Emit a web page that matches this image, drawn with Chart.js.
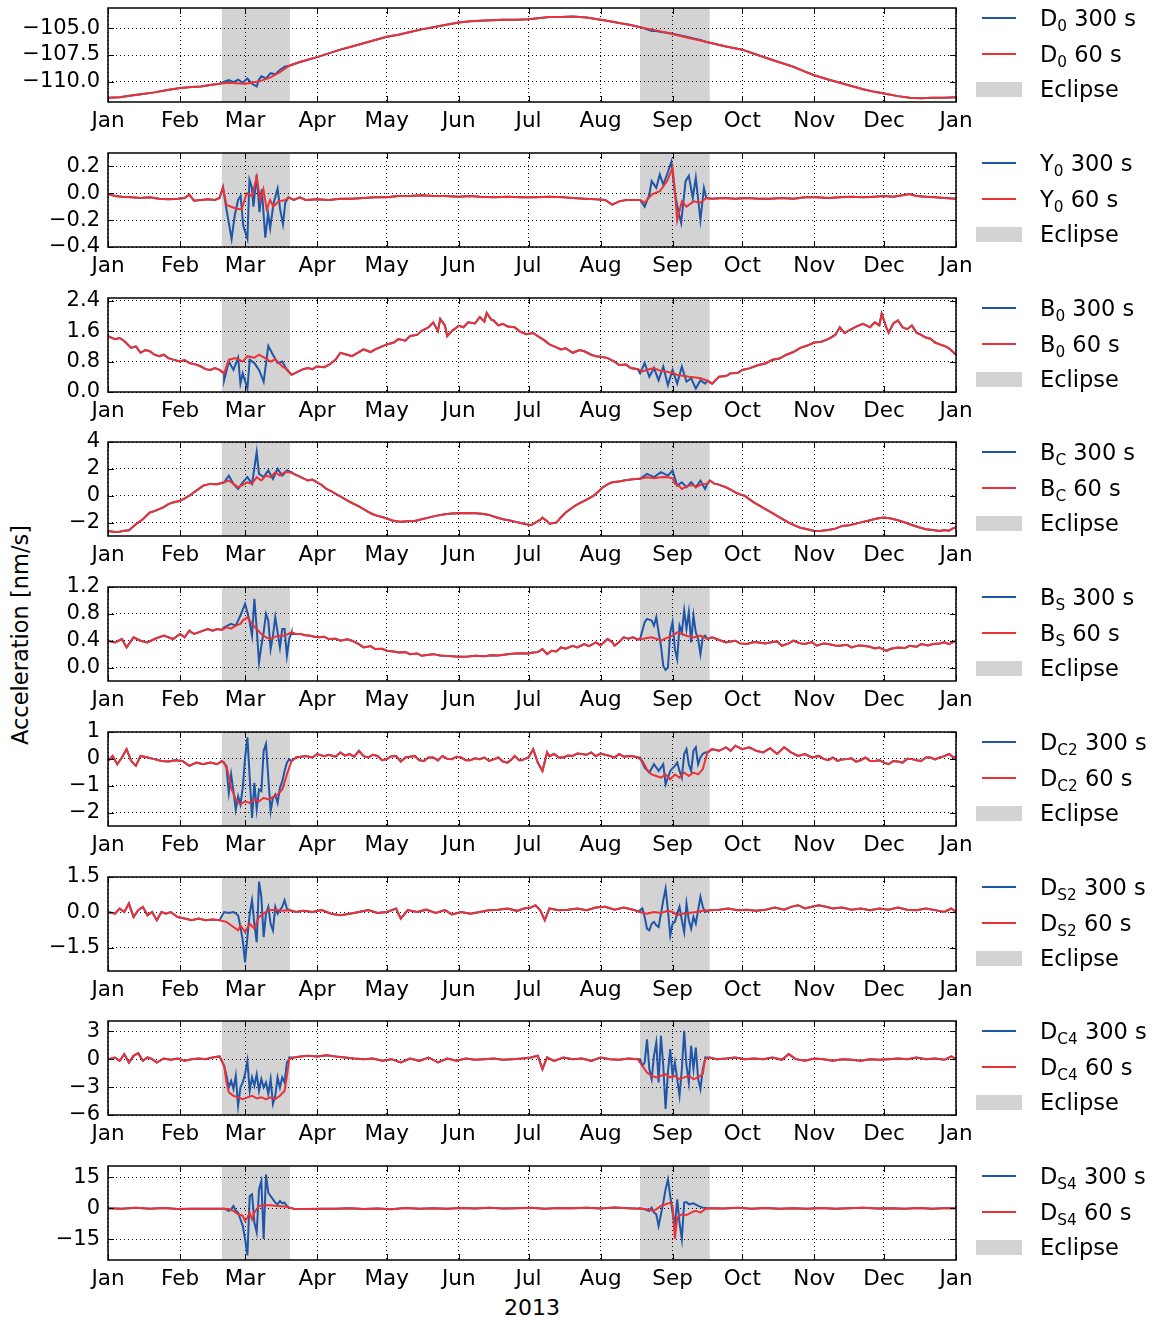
<!DOCTYPE html>
<html>
<head>
<meta charset="utf-8">
<script src="https://cdn.jsdelivr.net/npm/chart.js@4.4.1/dist/chart.umd.min.js"></script>
<style>
  body { margin: 0; background: #fff; font-family: 'DejaVu Sans', sans-serif; }
  #wrap { position: relative; width: 1156px; height: 1318px; overflow: hidden; }
  canvas { position: absolute; left: 0; }
  .leg { position: absolute; left: 0; font-size: 22.5px; color: #000; white-space: nowrap; z-index: 2; }
  .leg .row { position: absolute; left: 976px; height: 0; }
  .leg .ln { position: absolute; left: 6px; width: 34px; height: 2px; top: -1px; }
  .leg .patch { position: absolute; left: 0; width: 46px; height: 15px; top: -7px; background: #d3d3d3; }
  .leg .txt { position: absolute; left: 64px; top: -14px; line-height: 28px; }
  .leg sub { font-size: 0.68em; vertical-align: -0.3em; line-height: 0; }
  #ylab { position: absolute; left: 20px; top: 635px; font-size: 22.5px; transform: translate(-50%, -50%) rotate(-90deg); white-space: nowrap; }
  #xlab { position: absolute; left: 532px; top: 1307px; font-size: 22px; transform: translate(-50%, -50%); }
</style>
</head>
<body>
<div id="wrap">
  <div id="ylab">Acceleration [nm/s]</div>
  <div id="xlab">2013</div>
</div>
<script>
// x axis: day of year 2013, month starts
const monthStarts = [0, 31, 59, 90, 120, 151, 181, 212, 243, 273, 304, 334, 365];
const monthLabels = ['Jan', 'Feb', 'Mar', 'Apr', 'May', 'Jun', 'Jul', 'Aug', 'Sep', 'Oct', 'Nov', 'Dec', 'Jan'];
const eclipseStart = [49, 229];
const eclipseEnd = [78.3, 259];

// D0
const d0Red = [[0,-111.5],[5,-111.45],[10,-111.3],[15,-111.15],[20,-111.0],[25,-110.8],[31,-110.6],[36,-110.5],[40,-110.45],[44,-110.3],[48,-110.2],[52,-110.1],[55,-110.15],[59,-110.2],[62,-110.1],[66,-109.9],[70,-109.6],[74,-109.1],[78,-108.5],[82,-108.2],[86,-107.95],[90,-107.7],[95,-107.35],[100,-107.0],[105,-106.7],[110,-106.4],[115,-106.1],[120,-105.8],[125,-105.6],[130,-105.35],[135,-105.1],[140,-104.9],[145,-104.7],[151,-104.45],[156,-104.35],[160,-104.3],[165,-104.25],[170,-104.2],[176,-104.2],[181,-104.15],[185,-104.05],[190,-103.95],[195,-103.95],[200,-103.9],[206,-104.0],[212,-104.2],[216,-104.35],[220,-104.5],[225,-104.7],[230,-104.95],[235,-105.15],[240,-105.4],[245,-105.65],[250,-105.9],[255,-106.15],[260,-106.4],[266,-106.7],[273,-107.0],[279,-107.45],[285,-107.9],[290,-108.25],[295,-108.6],[300,-109.05],[304,-109.4],[310,-109.8],[315,-110.1],[320,-110.4],[325,-110.7],[330,-110.95],[334,-111.1],[340,-111.35],[345,-111.5],[350,-111.55],[355,-111.5],[360,-111.5],[365,-111.45]];
const d0BlueMar = [[50,-110.0],[52,-109.85],[54,-110.05],[56,-109.8],[58,-110.1],[60,-109.7],[62,-110.2],[64,-110.45],[65,-109.8],[66,-109.5],[68,-109.7],[70,-109.2],[72,-109.3],[74,-108.9],[76,-108.6],[78,-108.5]];
const d0BlueSep = [[230,-104.95],[232,-105.1],[234,-105.25],[236,-105.25],[238,-105.35],[240,-105.4],[243,-105.5],[246,-105.65],[249,-105.8],[252,-105.95],[255,-106.1],[258,-106.3]];
const d0Ticks = [-110, -107.5, -105];

// Y0
const y0Red = [[0,-0.005],[3,-0.02],[6,-0.025],[10,-0.03],[14,-0.035],[18,-0.03],[22,-0.04],[26,-0.045],[30,-0.04],[33,-0.035],[35,-0.01],[37,-0.055],[40,-0.05],[43,-0.045],[46,-0.05],[48,-0.035],[49.5,0.045],[51,-0.086],[53,-0.1],[55.4,-0.115],[57.5,-0.12],[59.7,0.0],[62,-0.02],[64,0.12],[65.5,-0.05],[66.9,0.03],[68.3,-0.12],[69.8,-0.05],[71.2,-0.1],[73.4,-0.06],[76.3,-0.05],[77.7,-0.03],[80,-0.05],[82.6,-0.03],[85,-0.05],[90,-0.045],[95,-0.05],[100,-0.04],[105,-0.04],[110,-0.035],[115,-0.03],[120,-0.03],[125,-0.02],[130,-0.02],[135,-0.015],[140,-0.02],[145,-0.02],[151,-0.025],[156,-0.02],[160,-0.025],[166,-0.03],[172,-0.025],[178,-0.03],[184,-0.03],[190,-0.025],[196,-0.03],[200,-0.035],[205,-0.04],[210,-0.045],[214,-0.05],[217,-0.085],[220,-0.06],[223,-0.05],[226,-0.05],[229,-0.05],[231,-0.07],[234,-0.01],[237.5,0.015],[240.6,0.09],[243,0.19],[244,0.02],[245,-0.2],[247,-0.06],[249,-0.1],[252,-0.06],[255,-0.07],[257.5,-0.035],[260,-0.04],[265,-0.035],[270,-0.04],[275,-0.035],[280,-0.04],[285,-0.04],[290,-0.035],[295,-0.04],[300,-0.03],[305,-0.03],[310,-0.035],[315,-0.03],[320,-0.025],[325,-0.03],[330,-0.025],[334,-0.02],[338,-0.025],[342,-0.015],[345,-0.005],[348,-0.02],[352,-0.025],[356,-0.03],[360,-0.035],[365,-0.04]];
const y0BlueMar = [[49.5,0.045],[51,-0.12],[53.2,-0.34],[54.6,-0.16],[56,-0.05],[57.1,-0.02],[58.2,-0.24],[60,-0.34],[60.9,0.1],[61.9,0.045],[62.6,-0.1],[64,0.14],[65.2,-0.14],[66.2,0.03],[67.7,-0.33],[68.9,-0.15],[69.8,-0.26],[71.2,-0.08],[73,0.035],[74.1,-0.12],[75.3,-0.23],[76.3,-0.07],[77.3,-0.04]];
const y0BlueSep = [[229,-0.05],[231,-0.1],[233,-0.01],[234,0.09],[236,0.04],[237.5,0.14],[239,0.065],[240.6,0.14],[242.5,0.235],[244,0.0],[245.5,-0.135],[246.7,-0.22],[248.6,0.09],[250,0.13],[251.7,-0.035],[253,0.115],[255,-0.2],[256.5,0.04],[257.5,-0.035]];
const y0Ticks = [-0.4, -0.2, 0.0, 0.2];

// B0
const b0Red = [[0,1.47],[3,1.39],[5,1.42],[7,1.34],[10,1.16],[12,1.2],[14,1.03],[16,1.1],[18,1.07],[20,0.98],[22,0.94],[24,0.98],[26,0.89],[28,0.85],[31,0.8],[33,0.84],[35,0.76],[38,0.72],[40,0.67],[42,0.6],[44,0.58],[46,0.63],[48,0.58],[50,0.49],[52,0.85],[55,0.89],[58,0.8],[60,0.94],[63,0.9],[65,0.98],[68,0.88],[70,0.8],[72,0.86],[75,0.67],[77,0.6],[79,0.45],[82,0.54],[84,0.6],[86,0.63],[88,0.6],[90,0.67],[93,0.65],[95,0.71],[98,0.85],[100,1.03],[103,0.98],[105,0.94],[108,1.05],[110,1.12],[113,1.05],[115,1.12],[118,1.2],[120,1.25],[123,1.3],[125,1.39],[128,1.35],[130,1.47],[133,1.5],[135,1.61],[138,1.7],[140,1.83],[142,1.6],[143,1.92],[145,1.75],[146,1.47],[148,1.6],[151,1.74],[153,1.7],[155,1.83],[158,1.8],[160,1.97],[162,1.85],[163,2.08],[165,1.9],[166,1.88],[168,1.75],[170,1.79],[172,1.72],[175,1.7],[177,1.6],[180,1.52],[183,1.55],[185,1.47],[188,1.35],[190,1.25],[192,1.2],[195,1.12],[197,1.15],[200,1.03],[203,1.1],[205,1.07],[208,0.98],[210,0.94],[213,0.92],[215,0.89],[218,0.8],[220,0.71],[223,0.72],[225,0.63],[228,0.6],[230,0.54],[233,0.6],[235,0.63],[238,0.55],[240,0.54],[243,0.5],[245,0.45],[248,0.42],[250,0.4],[253,0.38],[255,0.36],[258,0.3],[260,0.22],[263,0.4],[266,0.42],[268,0.49],[271,0.5],[273,0.58],[276,0.62],[280,0.71],[283,0.75],[286,0.85],[289,0.88],[292,0.98],[295,1.05],[298,1.16],[301,1.22],[304,1.3],[307,1.32],[310,1.39],[313,1.5],[315,1.7],[317,1.55],[320,1.65],[322,1.72],[325,1.79],[328,1.7],[330,1.83],[332,1.75],[333,2.06],[335,1.7],[336,1.56],[338,1.8],[340,1.88],[342,1.7],[344,1.65],[346,1.75],[348,1.56],[350,1.5],[352,1.43],[354,1.4],[356,1.3],[358,1.25],[360,1.21],[362,1.15],[365,0.98]];
const b0BlueMar = [[50,0.31],[52,0.8],[54,0.58],[56,0.9],[57,0.22],[58,0.49],[60,0.09],[61,0.85],[63,0.76],[65,0.58],[67,0.27],[69,1.21],[71,0.98],[73,0.76],[75,0.8],[77,0.58],[79,0.45]];
const b0BlueSep = [[229,0.49],[231,0.76],[233,0.4],[235,0.63],[237,0.31],[239,0.67],[241,0.18],[243,0.58],[245,0.22],[247,0.67],[249,0.27],[251,0.36],[253,0.09],[255,0.31],[257,0.22]];
const b0Ticks = [0.0, 0.8, 1.6, 2.4];

// BC
const bcRed = [[0,-2.63],[3,-2.7],[5,-2.68],[7,-2.6],[9,-2.58],[12,-2.13],[15,-1.75],[18,-1.25],[20,-1.15],[22,-1.0],[24,-0.85],[26,-0.63],[28,-0.5],[31,-0.38],[33,-0.2],[35,0.0],[38,0.38],[41,0.75],[44,0.88],[47,0.85],[50,1.0],[52,1.13],[54,0.88],[56,0.63],[58,0.8],[60,1.0],[62,0.88],[64,1.38],[66,1.13],[68,1.5],[70,1.38],[72,1.75],[74,1.5],[76,1.75],[78,1.75],[80,1.63],[83,1.38],[86,1.13],[88,1.2],[90,1.0],[92,0.8],[94,0.5],[96,0.35],[98,0.13],[100,-0.05],[102,-0.25],[104,-0.45],[106,-0.63],[108,-0.8],[110,-1.0],[112,-1.2],[114,-1.38],[116,-1.5],[118,-1.58],[120,-1.7],[122,-1.83],[124,-1.9],[126,-1.93],[129,-1.9],[132,-1.88],[135,-1.75],[138,-1.63],[141,-1.5],[145,-1.38],[148,-1.32],[151,-1.3],[155,-1.28],[158,-1.3],[161,-1.35],[164,-1.43],[167,-1.6],[170,-1.75],[173,-1.85],[175,-1.93],[178,-2.05],[180,-2.13],[182,-2.2],[184,-2.0],[186,-1.8],[187,-1.63],[189,-1.9],[190,-2.08],[193,-2.0],[195,-1.6],[197,-1.25],[199,-1.0],[201,-0.75],[203,-0.55],[205,-0.38],[207,-0.2],[209,0.0],[211,0.3],[213,0.63],[215,0.85],[217,1.0],[220,1.05],[222,1.13],[225,1.2],[227,1.25],[230,1.3],[232,1.38],[235,1.3],[237,1.35],[239,1.4],[241,1.38],[243,1.3],[244,0.88],[246,0.7],[247,0.5],[249,0.7],[250,0.75],[252,0.8],[253,0.63],[255,0.8],[256,0.88],[258,0.9],[259,1.13],[261,0.9],[262,0.88],[264,0.75],[266,0.63],[268,0.45],[270,0.25],[272,0.1],[274,0.0],[276,-0.25],[278,-0.5],[280,-0.7],[283,-1.0],[286,-1.3],[288,-1.5],[290,-1.7],[293,-2.0],[296,-2.25],[298,-2.38],[301,-2.5],[304,-2.63],[307,-2.6],[310,-2.55],[313,-2.45],[316,-2.25],[319,-2.2],[322,-2.08],[325,-1.95],[328,-1.83],[331,-1.7],[334,-1.63],[337,-1.7],[340,-1.83],[343,-2.0],[346,-2.18],[349,-2.35],[352,-2.5],[355,-2.55],[358,-2.63],[360,-2.55],[362,-2.6],[364,-2.4],[365,-2.38]];
const bcBlueMar = [[50,1.0],[52,1.5],[54,0.88],[56,0.5],[58,1.0],[60,1.38],[62,0.88],[64,3.25],[65,1.63],[67,1.38],[69,1.88],[71,1.25],[73,2.0],[75,1.5],[77,1.88],[79,1.75]];
const bcBlueSep = [[229,1.25],[232,1.63],[235,1.38],[238,1.75],[241,1.5],[243,1.88],[245,0.75],[247,1.0],[249,0.63],[251,1.0],[253,0.63],[255,1.13],[257,0.5],[258,0.9]];
const bcTicks = [-2, 0, 2, 4];

// BS
const bsRed = [[0,0.4],[3,0.375],[6,0.425],[8,0.3],[11,0.45],[14,0.4],[17,0.375],[20,0.425],[24,0.475],[28,0.425],[31,0.5],[33,0.45],[35,0.55],[37,0.5],[39,0.525],[41,0.55],[43,0.575],[45,0.55],[47,0.575],[49,0.56],[51,0.6],[53,0.58],[55,0.625],[57,0.65],[58,0.7],[60,0.75],[62,0.65],[64,0.575],[66,0.5],[68,0.45],[70,0.425],[73,0.475],[76,0.475],[79,0.525],[81,0.5],[83,0.5],[85,0.48],[87,0.475],[89,0.46],[91,0.45],[93,0.46],[95,0.425],[98,0.43],[100,0.4],[103,0.42],[105,0.4],[108,0.35],[110,0.3],[113,0.32],[115,0.275],[118,0.28],[120,0.25],[123,0.24],[125,0.225],[128,0.23],[130,0.2],[133,0.21],[135,0.175],[138,0.19],[140,0.2],[143,0.18],[145,0.175],[148,0.17],[151,0.16],[155,0.165],[158,0.175],[162,0.17],[165,0.185],[168,0.18],[172,0.2],[175,0.21],[178,0.215],[181,0.21],[183,0.225],[185,0.23],[187,0.275],[189,0.2],[191,0.25],[193,0.24],[195,0.3],[197,0.28],[200,0.325],[202,0.3],[205,0.35],[207,0.32],[210,0.375],[212,0.33],[215,0.425],[217,0.38],[218,0.325],[220,0.38],[222,0.45],[224,0.43],[226,0.45],[228,0.42],[230,0.425],[232,0.44],[234,0.45],[236,0.43],[238,0.4],[241,0.45],[243,0.475],[245,0.525],[247,0.5],[249,0.475],[252,0.45],[255,0.475],[258,0.425],[260,0.45],[262,0.425],[264,0.4],[266,0.375],[268,0.39],[270,0.4],[272,0.36],[275,0.35],[278,0.38],[280,0.375],[283,0.36],[285,0.375],[288,0.39],[290,0.325],[293,0.36],[295,0.4],[298,0.36],[300,0.35],[303,0.38],[305,0.325],[308,0.36],[310,0.35],[313,0.33],[315,0.325],[318,0.34],[320,0.3],[323,0.33],[325,0.325],[328,0.31],[330,0.285],[332,0.3],[335,0.25],[337,0.28],[340,0.3],[343,0.29],[345,0.325],[348,0.31],[350,0.35],[353,0.33],[355,0.35],[358,0.36],[360,0.375],[362,0.35],[365,0.4]];
const bsBlueMar = [[50,0.6],[53,0.65],[55,0.625],[57,0.775],[59,0.95],[60,0.825],[61,0.675],[62,0.475],[63,1.025],[64,0.575],[65,0.075],[66,0.325],[67,0.525],[68,0.8],[69,0.7],[70,0.275],[71,0.475],[72,0.75],[73,0.525],[74,0.3],[75,0.575],[76,0.575],[77,0.175],[78,0.425],[79,0.5]];
const bsBlueSep = [[229,0.425],[231,0.675],[232,0.725],[234,0.7],[235,0.625],[236,0.75],[237,0.525],[238,0.325],[239,0.025],[240,-0.035],[241,0.0],[242,0.525],[243,0.675],[244,0.275],[245,0.125],[246,0.625],[247,0.525],[248,0.85],[249,0.575],[250,0.825],[251,0.375],[252,0.775],[253,0.525],[254,0.425],[255,0.2],[256,0.45],[257,0.475]];
const bsTicks = [0.0, 0.4, 0.8, 1.2];

// DC2
const dc2Red = [[0,-0.08],[2,0.11],[4,-0.2],[6,0.05],[8,0.36],[10,-0.08],[12,-0.26],[14,0.11],[17,0.05],[20,-0.01],[23,-0.08],[26,-0.1],[29,-0.05],[32,-0.08],[35,-0.26],[38,-0.14],[41,-0.2],[44,-0.14],[47,-0.2],[49,-0.08],[51,-0.26],[53,-1.08],[55,-1.51],[57,-1.7],[59,-1.58],[61,-1.64],[63,-1.51],[65,-1.58],[67,-1.45],[69,-1.51],[71,-1.43],[73,-1.33],[75,-1.14],[77,-0.58],[79,-0.08],[81,0.05],[85,0.11],[88,0.05],[90,0.18],[93,0.1],[95,0.15],[98,0.08],[100,0.24],[102,0.12],[104,0.18],[106,0.08],[108,0.3],[110,0.1],[112,0.05],[114,0.15],[116,0.11],[118,-0.05],[120,-0.01],[122,0.1],[124,0.11],[126,-0.1],[128,0.05],[130,0.08],[132,0.11],[134,-0.05],[136,-0.08],[138,0.05],[140,0.05],[142,-0.06],[144,0.11],[146,0.0],[148,-0.01],[150,0.08],[152,0.05],[154,-0.05],[156,-0.05],[158,0.02],[160,-0.01],[162,0.05],[164,-0.08],[166,-0.02],[168,0.05],[170,-0.1],[172,-0.14],[174,0.0],[175,0.11],[177,-0.05],[178,-0.05],[180,0.02],[181,0.05],[183,0.36],[185,-0.14],[187,-0.45],[189,0.24],[190,0.1],[192,0.18],[194,0.05],[196,0.05],[198,0.12],[200,0.11],[202,0.2],[204,0.18],[206,0.15],[208,0.24],[210,0.1],[212,0.2],[214,0.15],[216,0.11],[218,0.05],[220,0.18],[222,0.08],[224,0.11],[226,0.1],[228,0.05],[230,-0.08],[232,-0.39],[234,-0.58],[236,-0.64],[238,-0.7],[240,-0.58],[242,-0.76],[244,-0.58],[246,-0.7],[248,-0.51],[250,-0.64],[252,-0.51],[254,-0.58],[256,-0.39],[258,0.24],[260,0.36],[263,0.3],[266,0.43],[268,0.3],[270,0.49],[273,0.36],[276,0.43],[279,0.3],[282,0.24],[285,0.4],[288,0.18],[291,0.43],[294,0.24],[297,0.11],[300,0.18],[303,0.05],[306,0.11],[308,0.0],[310,-0.05],[312,0.05],[314,-0.08],[316,-0.02],[318,-0.01],[320,0.02],[322,-0.1],[324,-0.05],[326,0.05],[328,-0.08],[330,-0.08],[332,-0.05],[334,-0.14],[336,-0.2],[338,-0.08],[340,-0.1],[342,-0.14],[344,0.0],[346,-0.01],[348,-0.05],[350,-0.08],[352,0.05],[354,0.05],[356,-0.02],[358,0.05],[360,0.1],[362,0.18],[364,0.05],[365,0.05]];
const dc2BlueMar = [[50,-0.14],[51,-0.33],[52,-1.26],[53,-0.58],[54,-1.2],[55,-1.89],[56,-1.39],[57,-1.7],[58,-1.08],[59,0.05],[60,0.8],[61,-0.7],[62,-2.2],[63,-0.89],[64,-1.89],[65,-1.14],[66,-1.2],[67,0.3],[68,0.55],[69,-0.7],[70,-1.95],[71,-1.45],[72,-1.33],[73,-1.64],[74,-1.08],[75,-0.83],[76,-0.45],[77,-0.14],[78,-0.01]];
const dc2BlueSep = [[229,0.05],[231,-0.33],[233,-0.51],[235,-0.2],[237,-0.45],[239,-0.2],[240,-0.95],[242,-0.45],[244,-0.26],[245,-0.14],[246,-0.45],[247,-0.7],[248,0.18],[249,0.36],[250,-0.2],[251,-0.45],[252,0.3],[253,0.43],[254,-0.2],[255,0.05],[256,0.18],[257,0.24]];
const dc2Ticks = [-2, -1, 0, 1];

// DS2
const ds2Red = [[0,0.01],[3,-0.06],[5,0.16],[7,0.01],[9,0.37],[11,-0.2],[13,0.09],[15,0.23],[17,-0.13],[19,0.01],[21,-0.34],[23,0.01],[25,-0.06],[27,0.01],[30,-0.2],[33,-0.27],[36,-0.34],[39,-0.27],[42,-0.34],[45,-0.31],[48,-0.34],[51,-0.41],[54,-0.63],[56,-0.77],[57,-0.56],[59,-0.84],[61,-0.49],[63,-0.7],[65,-0.2],[67,-0.06],[69,0.09],[72,0.11],[75,0.06],[78,0.09],[81,0.01],[84,0.06],[88,0.01],[92,0.09],[96,-0.06],[100,-0.13],[104,-0.06],[108,0.01],[112,0.09],[116,-0.03],[120,0.01],[124,0.16],[126,-0.27],[129,0.09],[133,0.01],[137,0.11],[141,-0.03],[145,0.09],[148,-0.09],[152,0.01],[156,-0.06],[160,0.01],[164,0.09],[168,0.11],[172,0.16],[176,0.06],[179,0.16],[182,0.2],[184,0.3],[186,0.09],[188,-0.34],[190,0.16],[194,0.09],[198,0.11],[202,0.16],[206,0.09],[210,0.2],[214,0.23],[218,0.11],[222,0.2],[226,0.11],[229,0.01],[232,-0.06],[235,0.01],[238,-0.03],[241,0.06],[243,0.01],[245,-0.13],[247,-0.06],[250,-0.03],[253,0.01],[256,0.06],[259,0.09],[263,0.11],[267,0.16],[271,0.09],[275,0.11],[279,0.06],[283,0.11],[287,0.2],[291,0.11],[294,0.23],[297,0.3],[300,0.16],[303,0.23],[306,0.3],[309,0.23],[312,0.16],[316,0.2],[320,0.11],[324,0.16],[328,0.09],[332,0.16],[336,0.11],[340,0.2],[344,0.11],[348,0.09],[352,0.16],[356,0.09],[360,0.01],[363,0.16],[365,0.01]];
const ds2BlueMar = [[50,0.01],[52,-0.03],[54,0.01],[56,-0.13],[57,-0.63],[58,-1.2],[59,-2.13],[60,-1.06],[61,-0.06],[62,0.51],[63,-0.49],[64,-1.27],[65,1.3],[66,0.66],[67,-1.06],[68,-0.06],[69,0.23],[70,-0.49],[71,-0.77],[72,0.23],[73,-0.06],[74,0.09],[75,0.23],[76,0.51],[77,0.16],[78,0.09]];
const ds2BlueSep = [[229,0.09],[230,0.16],[231,-0.2],[232,-0.7],[233,-0.77],[234,-0.49],[235,-0.41],[236,-0.56],[237,-0.63],[238,-0.06],[239,0.51],[240,1.01],[241,0.09],[242,-0.99],[243,-0.49],[244,-0.41],[245,-0.06],[246,0.23],[247,-0.34],[248,-0.84],[249,0.37],[250,-0.34],[251,-0.7],[252,-0.2],[253,-0.49],[254,0.09],[255,0.66],[256,0.23],[257,0.01]];
const ds2Ticks = [-1.5, 0.0, 1.5];

// DC4
const dc4Red = [[0,0.0],[3,0.18],[5,-0.18],[7,0.54],[9,-0.36],[11,0.36],[13,0.64],[15,-0.18],[17,0.18],[19,0.0],[21,-0.36],[24,0.07],[27,-0.07],[30,0.07],[33,-0.18],[36,0.0],[39,0.07],[42,0.0],[45,0.18],[48,0.29],[50,-0.71],[51,-2.5],[52,-3.57],[54,-3.93],[56,-4.1],[58,-4.29],[60,-4.1],[62,-3.93],[64,-4.21],[66,-4.1],[68,-4.29],[70,-4.1],[72,-4.29],[74,-3.93],[76,-3.39],[77,-1.79],[78,0.0],[80,0.18],[83,0.29],[86,0.36],[90,0.29],[94,0.43],[98,0.29],[102,0.18],[106,0.07],[110,0.0],[114,0.07],[118,-0.18],[122,0.0],[126,-0.36],[130,0.07],[134,-0.18],[138,0.18],[142,-0.36],[146,0.07],[150,-0.18],[154,0.07],[158,-0.07],[162,0.0],[166,0.07],[170,-0.07],[174,0.0],[178,0.07],[182,0.18],[185,0.36],[187,-1.07],[189,0.18],[192,-0.18],[196,0.18],[200,0.0],[204,0.07],[208,-0.18],[212,0.18],[216,0.0],[220,-0.07],[224,0.07],[228,0.0],[230,-0.71],[232,-1.43],[234,-1.79],[236,-1.96],[238,-1.79],[240,-1.61],[242,-1.96],[244,-1.79],[246,-2.14],[248,-1.96],[250,-1.79],[252,-2.14],[254,-1.96],[256,-1.61],[257,0.0],[259,0.18],[262,0.0],[266,0.07],[270,0.18],[274,0.0],[278,0.07],[282,0.0],[286,0.18],[290,-0.07],[293,0.54],[296,0.0],[300,-0.18],[304,0.07],[308,0.0],[312,-0.18],[316,0.0],[320,-0.07],[324,-0.18],[328,0.0],[332,-0.07],[336,0.0],[340,0.07],[344,0.0],[348,0.18],[352,0.0],[356,0.07],[360,-0.07],[363,0.29],[365,0.0]];
const dc4BlueMar = [[50,-0.71],[51,-1.79],[52,-3.04],[53,-2.32],[54,-3.21],[55,-1.79],[56,-5.0],[57,-3.04],[58,-2.5],[59,-1.61],[60,-0.18],[61,-3.39],[62,-1.96],[63,-2.86],[64,-1.61],[65,-3.39],[66,-2.14],[67,-3.04],[68,-2.5],[69,-3.75],[70,-2.14],[71,-4.8],[72,-3.93],[73,-1.96],[74,-3.04],[75,-1.96],[76,-2.5],[77,-0.36],[78,0.18]];
const dc4BlueSep = [[229,0.0],[230,-0.71],[231,-0.36],[232,2.14],[233,-1.07],[234,-2.14],[235,0.36],[236,1.79],[237,-2.5],[238,2.5],[239,-0.71],[240,-5.36],[241,-1.43],[242,1.07],[243,-1.79],[244,-0.36],[245,-2.14],[246,-3.93],[247,-1.07],[248,3.04],[249,-0.71],[250,-2.5],[251,1.43],[252,-1.07],[253,1.25],[254,-2.14],[255,-3.2],[256,-1.07],[257,0.18]];
const dc4Ticks = [-6, -3, 0, 3];

// DS4
const ds4Red = [[0,0.0],[6,-0.3],[12,0.2],[18,-0.2],[24,0.1],[30,-0.4],[36,-0.2],[42,-0.3],[48,-0.2],[50,-0.2],[52,-0.5],[54,-1.3],[56,-2.9],[58,-3.7],[59,-6.1],[60,-4.5],[61,-2.1],[62,-5.3],[63,-2.1],[64,-0.5],[65,1.1],[67,1.4],[70,1.4],[73,1.1],[76,0.8],[78,0.3],[80,-0.2],[86,-0.4],[92,-0.2],[98,-0.3],[104,0.0],[110,-0.4],[116,-0.1],[122,-0.5],[128,0.1],[134,-0.2],[140,0.0],[146,-0.3],[152,0.1],[158,-0.1],[164,0.2],[170,-0.1],[176,0.0],[182,0.2],[188,-0.3],[194,0.1],[200,0.0],[206,0.2],[212,-0.1],[218,0.3],[224,0.0],[229,-0.2],[232,-0.5],[235,-1.3],[238,1.1],[240,1.9],[242,2.7],[243,1.1],[244,-14.8],[245,-4.5],[247,-2.9],[249,-3.3],[251,-2.1],[253,-1.3],[255,-2.1],[257,-0.5],[259,0.0],[265,-0.1],[271,0.2],[277,-0.3],[283,0.1],[289,-0.2],[295,0.0],[301,-0.3],[307,0.1],[313,-0.2],[319,0.0],[325,0.2],[331,-0.1],[337,0.0],[343,-0.2],[349,0.1],[355,-0.2],[361,0.1],[365,0.0]];
const ds4BlueMar = [[50,-0.2],[52,-1.3],[53,-0.5],[54,1.1],[55,-1.3],[56,-2.1],[57,-5.3],[58,-8.5],[59,-14.8],[60,-22.8],[61,5.9],[62,6.7],[63,-6.9],[64,-11.6],[65,9.1],[66,13.1],[67,-14.8],[68,16.3],[69,7.5],[70,5.9],[71,4.3],[72,2.7],[73,1.9],[74,3.5],[75,2.4],[76,2.7],[77,1.1],[78,0.3]];
const ds4BlueSep = [[229,0.0],[231,-0.5],[233,-1.3],[234,0.3],[235,-2.1],[236,-2.9],[237,-8.5],[238,-2.9],[239,2.7],[240,9.1],[241,13.9],[242,5.9],[243,-2.1],[244,-8.5],[245,4.3],[246,-6.9],[247,-14.8],[248,2.7],[249,3.0],[250,1.9],[252,2.4],[254,1.1],[256,0.3],[258,0.0]];
const ds4Ticks = [-15, 0, 15];

const panels = [
  { name: 'D', sub: '0', red: d0Red, mar: d0BlueMar, sep: d0BlueSep, min: -111.9, max: -103.1, ticks: d0Ticks, dec: 1 },
  { name: 'Y', sub: '0', red: y0Red, mar: y0BlueMar, sep: y0BlueSep, min: -0.4, max: 0.3, ticks: y0Ticks, dec: 1 },
  { name: 'B', sub: '0', red: b0Red, mar: b0BlueMar, sep: b0BlueSep, min: 0, max: 2.47, ticks: b0Ticks, dec: 1 },
  { name: 'B', sub: 'C', red: bcRed, mar: bcBlueMar, sep: bcBlueSep, min: -3, max: 4, ticks: bcTicks, dec: 0 },
  { name: 'B', sub: 'S', red: bsRed, mar: bsBlueMar, sep: bsBlueSep, min: -0.2, max: 1.2, ticks: bsTicks, dec: 1 },
  { name: 'D', sub: 'C2', red: dc2Red, mar: dc2BlueMar, sep: dc2BlueSep, min: -2.5, max: 1, ticks: dc2Ticks, dec: 0 },
  { name: 'D', sub: 'S2', red: ds2Red, mar: ds2BlueMar, sep: ds2BlueSep, min: -2.5, max: 1.5, ticks: ds2Ticks, dec: 1 },
  { name: 'D', sub: 'C4', red: dc4Red, mar: dc4BlueMar, sep: dc4BlueSep, min: -6, max: 4.1, ticks: dc4Ticks, dec: 0 },
  { name: 'D', sub: 'S4', red: ds4Red, mar: ds4BlueMar, sep: ds4BlueSep, min: -25, max: 20.4, ticks: ds4Ticks, dec: 0 }
];

const BLUE = '#1f56a8';
const RED = '#ec3236';
const FONT = "'DejaVu Sans', sans-serif";
const PAD_TOP = 20;

function toXY(arr) {
  return arr.map(p => ({ x: p[0], y: p[1] }));
}

// 300 s series: same as 60 s outside the eclipse windows
function buildBlue(p) {
  const segs = [p.mar, p.sep];
  const outside = p.red.filter(pt => !segs.some(s => pt[0] > s[0][0] && pt[0] < s[s.length - 1][0]));
  return outside.concat(p.mar, p.sep).sort((a, b) => a[0] - b[0]);
}

function fmt(v, dec) {
  return v.toFixed(dec).replace('-', '\u2212');
}

function noPad(s) {
  s.paddingTop = 0; s.paddingBottom = 0; s.paddingLeft = 0; s.paddingRight = 0;
}

const framePlugin = {
  id: 'frame',
  beforeDraw(chart) {
    const { ctx, chartArea: a, scales: { x } } = chart;
    ctx.save();
    ctx.fillStyle = '#d3d3d3';
    for (let i = 0; i < eclipseStart.length; i++) {
      const x0 = x.getPixelForValue(eclipseStart[i]);
      const x1 = x.getPixelForValue(eclipseEnd[i]);
      ctx.fillRect(x0, a.top, x1 - x0, a.bottom - a.top);
    }
    ctx.restore();
  },
  afterDraw(chart) {
    const { ctx, chartArea: a, scales: { x, y } } = chart;
    ctx.save();
    ctx.strokeStyle = '#000';
    ctx.lineWidth = 1;
    ctx.beginPath();
    x.ticks.forEach(t => {
      const px = Math.round(x.getPixelForValue(t.value)) + 0.5;
      ctx.moveTo(px, a.bottom); ctx.lineTo(px, a.bottom - 6);
      ctx.moveTo(px, a.top); ctx.lineTo(px, a.top + 6);
    });
    y.ticks.forEach(t => {
      const py = Math.round(y.getPixelForValue(t.value)) + 0.5;
      ctx.moveTo(a.left, py); ctx.lineTo(a.left + 6, py);
      ctx.moveTo(a.right, py); ctx.lineTo(a.right - 6, py);
    });
    ctx.stroke();
    ctx.lineWidth = 1.5;
    ctx.strokeRect(a.left, a.top, a.right - a.left, a.bottom - a.top);
    ctx.restore();
  }
};

const wrap = document.getElementById('wrap');

panels.forEach((p, i) => {
  const top = 8 + Math.round(i * 144.75);
  const canvas = document.createElement('canvas');
  canvas.width = 1000;
  canvas.height = PAD_TOP + 94 + 43;
  canvas.style.top = (top - PAD_TOP) + 'px';
  wrap.appendChild(canvas);

  const leg = document.createElement('div');
  leg.className = 'leg';
  leg.style.top = top + 'px';
  const lab = p.name + '<sub>' + p.sub + '</sub>';
  leg.innerHTML =
    '<div class="row" style="top:10px"><div class="ln" style="background:' + BLUE + '"></div><div class="txt">' + lab + ' 300 s</div></div>' +
    '<div class="row" style="top:46px"><div class="ln" style="background:' + RED + '"></div><div class="txt">' + lab + ' 60 s</div></div>' +
    '<div class="row" style="top:81px"><div class="patch"></div><div class="txt">Eclipse</div></div>';
  wrap.appendChild(leg);

  new Chart(canvas.getContext('2d'), {
    type: 'line',
    data: {
      datasets: [
        { label: '300 s', data: toXY(buildBlue(p)), borderColor: BLUE, borderWidth: 2, pointRadius: 0, tension: 0, order: 2 },
        { label: '60 s', data: toXY(p.red), borderColor: RED, borderWidth: 2, pointRadius: 0, tension: 0, order: 1 }
      ]
    },
    options: {
      responsive: false,
      animation: false,
      devicePixelRatio: 1,
      layout: { padding: { top: PAD_TOP, right: 44, left: 0, bottom: 0 } },
      plugins: { legend: { display: false }, tooltip: { enabled: false } },
      scales: {
        x: {
          type: 'linear',
          min: 0,
          max: 365,
          afterBuildTicks: s => { s.ticks = monthStarts.map(v => ({ value: v })); },
          afterFit: s => { s.height = 43; noPad(s); },
          grid: { color: '#000', lineWidth: 1, drawTicks: false },
          border: { display: false, dash: [1, 3] },
          ticks: {
            autoSkip: false, maxRotation: 0, padding: 7, color: '#000',
            font: { family: FONT, size: 21.5 },
            callback: (v, idx) => monthLabels[idx]
          }
        },
        y: {
          min: p.min,
          max: p.max,
          afterBuildTicks: s => { s.ticks = p.ticks.map(v => ({ value: v })); },
          afterFit: s => { s.width = 108; noPad(s); },
          grid: { color: '#000', lineWidth: 1, drawTicks: false },
          border: { display: false, dash: [1, 3] },
          ticks: {
            padding: 8, color: '#000',
            font: { family: FONT, size: 21 },
            callback: v => fmt(v, p.dec)
          }
        }
      }
    },
    plugins: [framePlugin]
  });
});
</script>
</body>
</html>
